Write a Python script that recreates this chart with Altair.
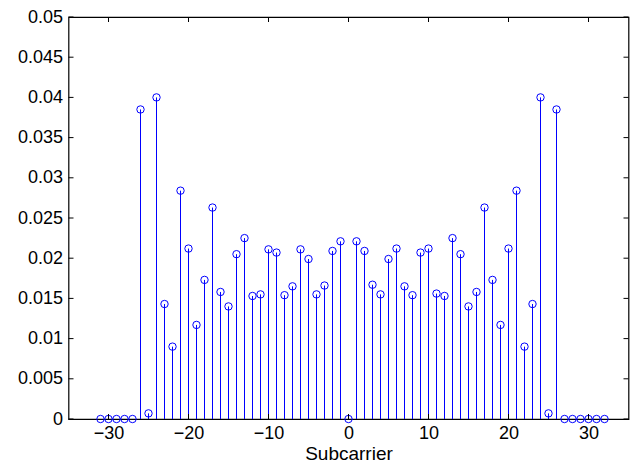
import altair as alt
import pandas as pd

subcarrier = [-31, -30, -29, -28, -27, -26, -25, -24, -23, -22, -21, -20, -19, -18, -17, -16,
              -15, -14, -13, -12, -11, -10, -9, -8, -7, -6, -5, -4, -3, -2, -1, 0,
              1, 2, 3, 4, 5, 6, 7, 8, 9, 10, 11, 12, 13, 14, 15, 16,
              17, 18, 19, 20, 21, 22, 23, 24, 25, 26, 27, 28, 29, 30, 31, 32]
power = [0, 0, 0, 0, 0, 0.0385, 0.0007, 0.0400, 0.0143, 0.0090, 0.0284, 0.0212, 0.0117, 0.0173, 0.0263, 0.0158,
         0.0140, 0.0205, 0.0225, 0.0153, 0.0155, 0.0211, 0.0207, 0.0154, 0.0165, 0.0211, 0.0199, 0.0155, 0.0166, 0.0209, 0.0221, 0,
         0.0221, 0.0209, 0.0167, 0.0155, 0.0199, 0.0212, 0.0165, 0.0154, 0.0207, 0.0212, 0.0156, 0.0153, 0.0225, 0.0205, 0.0140, 0.0158,
         0.0263, 0.0173, 0.0117, 0.0212, 0.0284, 0.0090, 0.0143, 0.0400, 0.0007, 0.0385, 0, 0, 0, 0, 0, 0]
x_ticks = [-30, -20, -10, 0, 10, 20, 30]
y_ticks = [0, 0.005, 0.01, 0.015, 0.02, 0.025, 0.03, 0.035, 0.04, 0.045, 0.05]

W, H = 560, 402
BLUE = "#0000ff"
FONT = "Liberation Sans"

df = pd.DataFrame({"k": subcarrier, "p": power})
xt = pd.DataFrame({"k": x_ticks})
yt = pd.DataFrame({"p": y_ticks})

xscale = alt.Scale(domain=[-35, 35], nice=False, zero=False)
yscale = alt.Scale(domain=[0, 0.05], nice=False)

xaxis = alt.Axis(values=x_ticks, title="Subcarrier", ticks=False, domain=False, grid=False,
                 labelFontSize=18, labelFont=FONT, labelColor="black", labelPadding=5,
                 titleFontSize=19, titleFont=FONT, titleFontWeight="normal",
                 titleColor="black", titlePadding=2)
yaxis = alt.Axis(values=y_ticks, format="~g", title=None, ticks=False, domain=False, grid=False,
                 labelFontSize=18, labelFont=FONT, labelColor="black", labelPadding=6)

X = alt.X("k:Q", scale=xscale, axis=xaxis, title="Subcarrier")
Y = alt.Y("p:Q", scale=yscale, axis=yaxis, title=None)

base = alt.Chart(df)
stems = base.mark_rule(color=BLUE, strokeWidth=1).encode(x=X, y=Y, y2=alt.datum(0))
circles = base.mark_point(shape="circle", filled=False, color=BLUE, size=55, strokeWidth=1, opacity=1).encode(
    x=X, y=Y)

tick_len = 5
bottom_t = alt.Chart(xt).mark_rule(color="black", strokeWidth=1).encode(
    x=X, y=alt.value(H), y2=alt.value(H - tick_len))
top_t = alt.Chart(xt).mark_rule(color="black", strokeWidth=1).encode(
    x=X, y=alt.value(0), y2=alt.value(tick_len))
left_t = alt.Chart(yt).mark_rule(color="black", strokeWidth=1).encode(
    y=Y, x=alt.value(0), x2=alt.value(tick_len))
right_t = alt.Chart(yt).mark_rule(color="black", strokeWidth=1).encode(
    y=Y, x=alt.value(W), x2=alt.value(W - tick_len))

chart = alt.layer(stems, circles, bottom_t, top_t, left_t, right_t).properties(
    width=W, height=H,
    autosize=alt.AutoSizeParams(type="none"),
    padding={"left": 60.5, "top": 9, "right": 4, "bottom": 47},
    background="white",
).configure_view(stroke="black", strokeWidth=1.2)

chart.save("out.html", embed_options={"renderer": "svg", "actions": False})
